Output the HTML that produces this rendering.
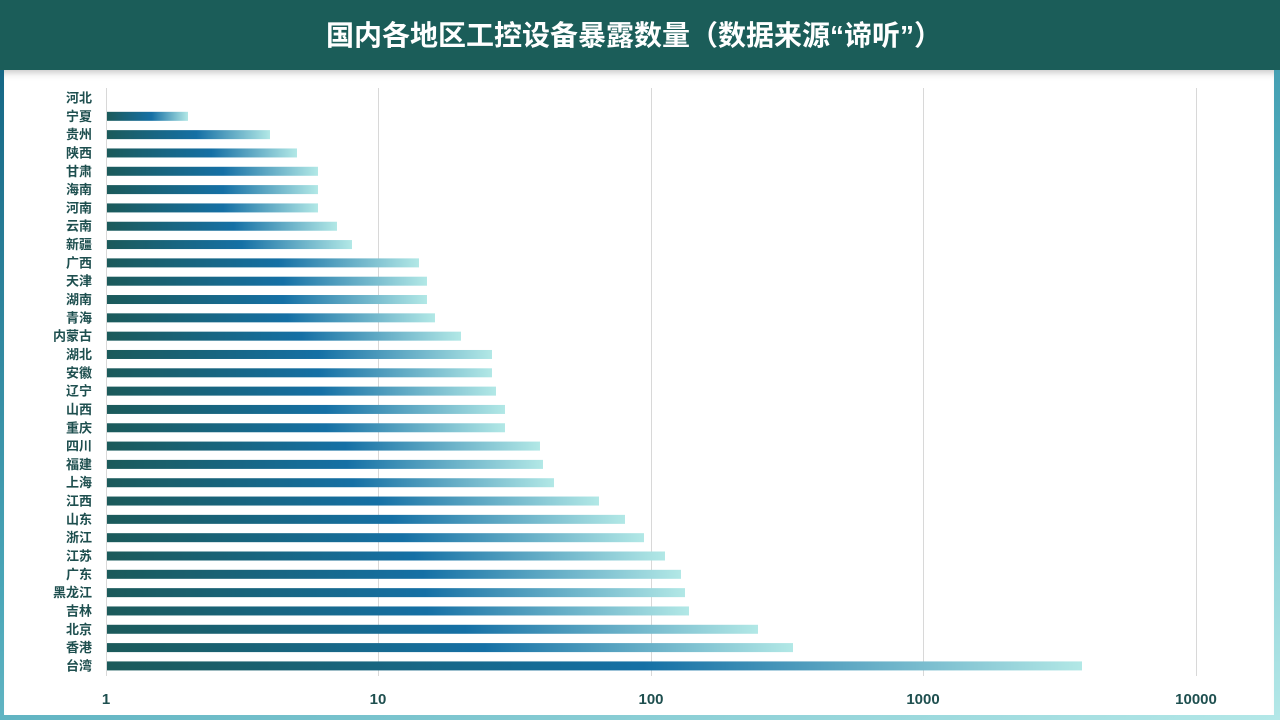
<!DOCTYPE html>
<html><head><meta charset="utf-8"><style>
*{margin:0;padding:0}
body{width:1280px;height:720px;position:relative;overflow:hidden;background:linear-gradient(160deg,#0e5e7e 0%,#4aa6b8 50%,#b4e8e8 100%);font-family:"Liberation Sans","Noto Sans CJK SC",sans-serif}
#hdr{position:absolute;left:0;top:0;width:1268px;height:70px;background:#1b5d59;color:#fff;font-size:28px;font-weight:bold;text-align:center;line-height:72px;padding-right:12px}
#card{position:absolute;left:4px;top:70px;width:1270px;height:645px;background:#fff;box-shadow:inset 0 8px 8px -6px rgba(0,0,0,.25)}
</style></head><body>
<div id="hdr">国内各地区工控设备暴露数量（数据来源“谛听”）</div>
<div id="card"></div>
<svg width="1280" height="720" style="position:absolute;left:0;top:0">
<defs><linearGradient id="g" x1="0" x2="1" y1="0" y2="0">
<stop offset="0" stop-color="#1b5a5a"/><stop offset="0.55" stop-color="#1570a5"/><stop offset="1" stop-color="#b2e8e6"/></linearGradient></defs>
<g stroke="#d8d8d8" stroke-width="1">
<line x1="378.5" y1="88" x2="378.5" y2="676"/><line x1="651.5" y1="88" x2="651.5" y2="676"/><line x1="923.5" y1="88" x2="923.5" y2="676"/><line x1="1196.5" y1="88" x2="1196.5" y2="676"/><line x1="106.5" y1="88" x2="106.5" y2="676"/>
</g>
<g id="bars"></g>
<g font-size="13" font-weight="bold" fill="#1e4f4f" text-anchor="end" id="labs"></g>
<g font-size="15" font-weight="bold" fill="#1e4f4f" text-anchor="middle">
<text x="106" y="704">1</text><text x="378" y="704">10</text><text x="651" y="704">100</text><text x="923" y="704">1000</text><text x="1196" y="704">10000</text>
</g>
</svg>
<script>
var d=[["河北",106],["宁夏",188],["贵州",270],["陕西",297],["甘肃",318],["海南",318],["河南",318],["云南",337],["新疆",352],["广西",419],["天津",427],["湖南",427],["青海",435],["内蒙古",461],["湖北",492],["安徽",492],["辽宁",496],["山西",505],["重庆",505],["四川",540],["福建",543],["上海",554],["江西",599],["山东",625],["浙江",644],["江苏",665],["广东",681],["黑龙江",685],["吉林",689],["北京",758],["香港",793],["台湾",1082]];
var b="",l="";
d.forEach(function(r,i){var y=98+i*18.32;
if(r[1]>107)b+='<rect x="107" y="'+(y-4.5)+'" width="'+(r[1]-107)+'" height="9" fill="url(#g)"/>';
l+='<text x="92" y="'+(y+4.5)+'">'+r[0]+'</text>';});
document.getElementById("bars").innerHTML=b;document.getElementById("labs").innerHTML=l;
</script>
</body></html>
